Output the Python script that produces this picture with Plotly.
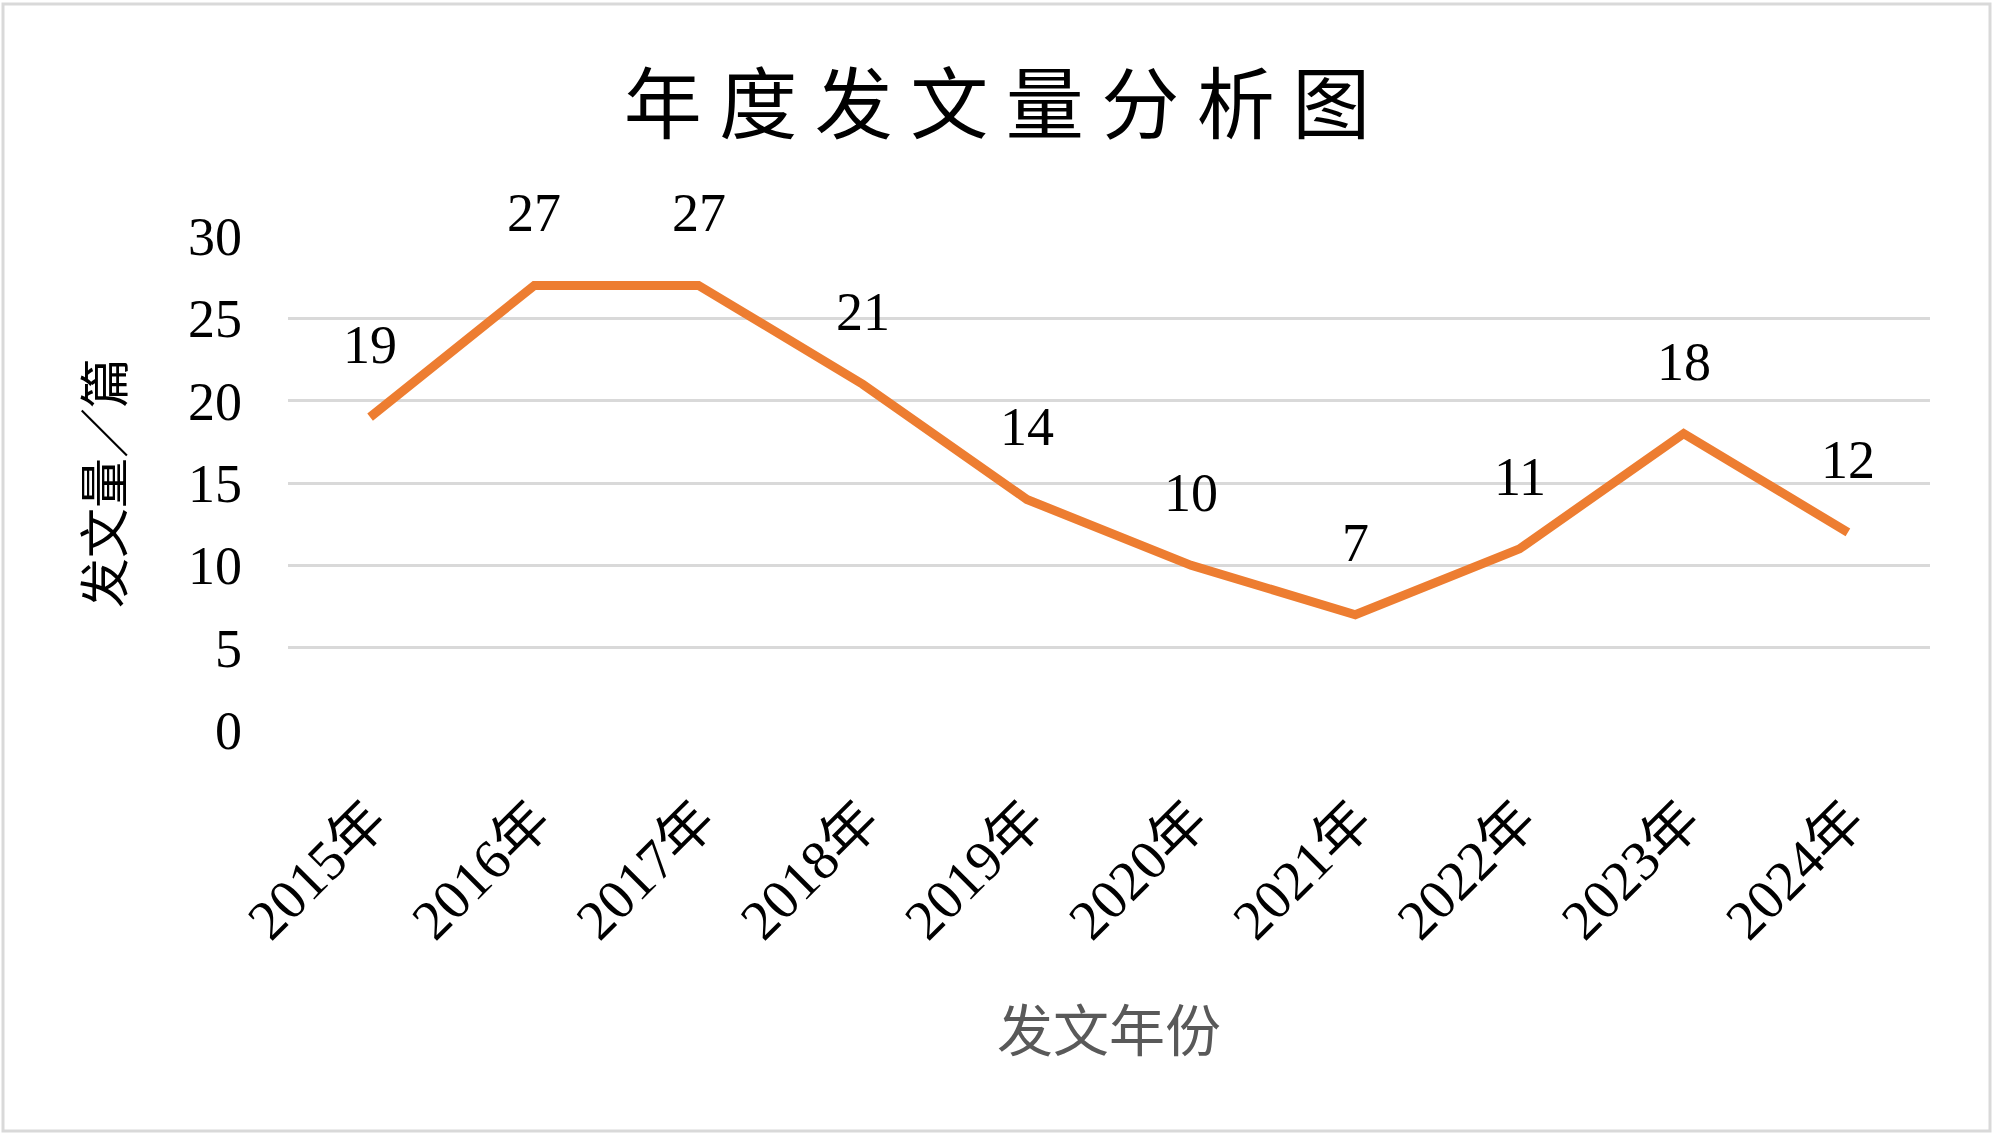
import plotly.graph_objects as go

years = ["2015年", "2016年", "2017年", "2018年", "2019年", "2020年", "2021年", "2022年", "2023年", "2024年"]
counts = [19, 27, 27, 21, 14, 10, 7, 11, 18, 12]
y_ticks = [0, 5, 10, 15, 20, 25, 30]

W, H = 2000, 1145
L, R, T, B = 288, 70, 236, 415
pw, ph = W - L - R, H - T - B

serif = "Liberation Serif, Noto Sans CJK SC, serif"
cjk = "Noto Sans CJK SC, sans-serif"

fig = go.Figure()
fig.add_trace(go.Scatter(
    x=years, y=counts, mode="lines",
    line=dict(color="#ED7D31", width=9, shape="linear"),
    hoverinfo="x+y", showlegend=False,
))

for yr, c in zip(years, counts):
    fig.add_annotation(x=yr, y=c, text=str(c), showarrow=False, yshift=72,
                       font=dict(family=serif, size=54, color="#000000"))

def px_x(p):
    return (p - L) / pw

def px_y(p):
    return (H - B - p) / ph

# outer chart frame
fig.add_shape(type="rect", xref="paper", yref="paper",
              x0=px_x(3), x1=px_x(1990), y0=px_y(1131), y1=px_y(4),
              line=dict(color="#D9D9D9", width=3), fillcolor="rgba(0,0,0,0)", layer="below")

fig.update_layout(
    width=W, height=H,
    margin=dict(l=L, r=R, t=T, b=B),
    paper_bgcolor="#FFFFFF", plot_bgcolor="#FFFFFF",
    title=dict(text="年 度 发 文 量 分 析 图", x=0.4985, xref="container", xanchor="center",
               y=1 - 106 / H, yanchor="middle",
               font=dict(family=cjk, size=78, color="#000000")),
    xaxis=dict(
        type="category", range=[-0.5, 9.5], showgrid=False, zeroline=False, showline=False,
        tickangle=-45, ticks="", ticklabelstandoff=45,
        tickfont=dict(family=serif, size=56, color="#000000"),
        title=dict(text="发文年份", standoff=61, font=dict(family=cjk, size=56, color="#595959")),
    ),
    yaxis=dict(
        range=[0, 30], tickvals=y_ticks, showgrid=True, gridcolor="#D9D9D9", gridwidth=3,
        zeroline=False, showline=False, ticks="", ticklabelstandoff=45,
        tickfont=dict(family=serif, size=54, color="#000000"),
        title=dict(text="发文量／篇", standoff=48, font=dict(family=cjk, size=50, color="#000000")),
    ),
)

fig.write_html("out.html", config={"displayModeBar": False},
               post_script="document.body.style.margin='0';document.body.style.padding='0';")
